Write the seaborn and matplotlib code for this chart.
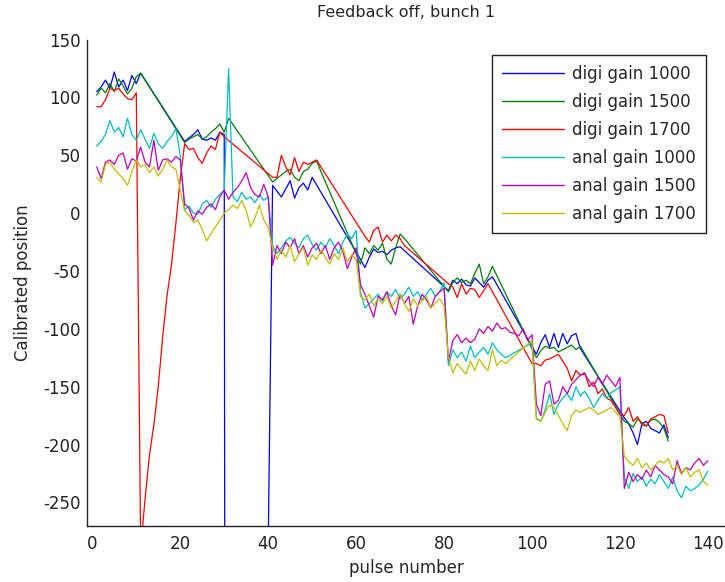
import matplotlib
matplotlib.use("Agg")
import matplotlib.pyplot as plt
import numpy as np
import pandas as pd
import seaborn as sns

# ---------------- data ----------------
series_names = ["digi gain 1000", "digi gain 1500", "digi gain 1700",
                "anal gain 1000", "anal gain 1500", "anal gain 1700"]

digi1000_x = (list(range(1, 12)) + list(range(21, 31)) + [31, 40] + list(range(41, 51))
              + list(range(61, 71)) + list(range(81, 92)) + list(range(101, 112)) + list(range(121, 132)))
digi1000_y = [105, 109, 115, 108, 122, 109, 115, 106, 119, 112, 121,
              62, 65, 68, 72, 64, 63, 65, 63, 70, 68,
              -3000, -290,
              24, 19, 14, 21, 28, 13, 22, 26, 20, 31,
              -40, -47, -38, -31, -34, -33, -36, -32, -30, -29,
              -67, -58, -61, -57, -62, -63, -56, -60, -64, -58, -55,
              -122, -112, -105, -116, -104, -116, -104, -113, -106, -104, -117,
              -177, -182, -190, -200, -182, -180, -186, -188, -190, -183, -194]

digi1500_x = (list(range(1, 12)) + list(range(21, 32)) + list(range(41, 52)) + list(range(61, 72))
              + list(range(81, 92)) + list(range(101, 112)) + list(range(121, 132)))
digi1500_y = [102, 108, 104, 112, 105, 116, 110, 103, 108, 118, 121,
              61, 64, 66, 68, 64, 66, 70, 73, 77, 70, 82,
              27, 30, 33, 36, 38, 31, 28, 36, 38, 43, 45,
              -44, -30, -35, -28, -32, -26, -40, -44, -30, -18, -22,
              -68, -60, -56, -60, -58, -61, -52, -44, -61, -55, -46,
              -125, -119, -115, -117, -116, -120, -118, -116, -114, -118, -115,
              -180, -182, -185, -178, -181, -184, -179, -178, -181, -186, -197]

digi1700_x = (list(range(1, 31)) + list(range(41, 52)) + list(range(62, 72))
              + list(range(81, 91)) + list(range(100, 132)))
digi1700_y = [92, 92, 98, 108, 106, 108, 103, 99, 98, 104,
              -290, -247, -209, -183, -150, -107, -71, -45, -9, 30,
              60, 55, 56, 48, 43, 52, 58, 55, 70, 66,
              31, 31, 50, 40, 33, 48, 36, 44, 42, 44, 46,
              -20, -25, -15, -12, -25, -19, -24, -19, -22, -28,
              -61, -64, -73, -61, -70, -65, -66, -73, -67, -61,
              -130, -130, -132, -127, -126, -124, -122, -128, -134, -145, -136,
              -140, -138, -150, -146, -156, -152, -160, -162, -168, -174,
              -175, -168, -180, -176, -183, -184, -178, -176, -174, -175, -190]

anal_gap_x = list(range(1, 95)) + list(range(100, 141))
anal_full_x = list(range(1, 141))

anal1000_x = anal_gap_x
anal1000_y = [58, 62, 68, 80, 70, 74, 66, 82, 68, 63, 72, 64, 56, 69, 60, 56, 62, 66, 73, 50,
              3, 6, 0, -1, 8, 11, 5, 12, 16, 20, 125, 14, 10, 18, 12, 14, 9, 16, 11, 14,
              -28, -35, -30, -24, -21, -26, -30, -22, -19, -27, -32, -25, -30, -22, -28, -35, -25, -18, -22, -15,
              -68, -82, -78, -74, -70, -76, -68, -72, -66, -74, -70, -64, -72, -68, -75, -70, -65, -72, -68, -60,
              -132, -118, -125, -120, -128, -115, -125, -120, -116, -122, -112, -118, -122, -125,
              -112,
              -177, -180, -170, -156, -174, -165, -160, -156, -162, -150, -158, -154, -160, -168, -162, -156, -160, -155, -153, -150,
              -228, -238, -225, -232, -228, -236, -230, -234, -226, -232, -238, -228, -240, -246, -236, -240, -238, -235, -230, -223]

anal1500_x = anal_full_x
anal1500_y = [40, 30, 44, 46, 42, 50, 52, 38, 47, 45, 57, 44, 40, 63, 37, 46, 47, 44, 49, 46,
              8, 4, -6, 2, -1, 5, 8, 3, 14, 20, 12, 18, 22, 28, 35, 22, 16, 14, 25, 14,
              -45, -28, -35, -25, -30, -22, -35, -28, -38, -30, -26, -35, -28, -40, -30, -25, -33, -48, -38, -30,
              -62, -70, -80, -90, -72, -75, -68, -80, -88, -70, -78, -72, -96, -80, -70, -75, -82, -72, -68, -65,
              -128, -110, -105, -112, -108, -112, -109, -100, -104, -98, -102, -95, -100, -99, -103, -104, -106, -100, -110, -105,
              -165, -175, -148, -145, -165, -162, -150, -156, -148, -144, -140, -139, -145, -150, -142, -148, -140, -145, -150, -142,
              -238, -224, -232, -226, -230, -222, -228, -218, -222, -226, -228, -234, -214, -225, -220, -222, -216, -212, -218, -214]

anal1700_x = anal_gap_x
anal1700_y = [31, 27, 42, 44, 38, 34, 30, 24, 36, 46, 40, 42, 35, 40, 32, 38, 46, 40, 38, 20,
              2, -2, -8, -6, -14, -24, -18, -12, -6, 0, 3, 7, 4, 11, 2, -12, -4, 7, -6, -12,
              -30, -40, -32, -38, -28, -42, -35, -30, -45, -36, -40, -32, -38, -44, -35, -40, -30, -42, -36, -40,
              -72, -75, -70, -80, -74, -78, -72, -82, -76, -70, -78, -85, -74, -80, -76, -72, -82, -78, -74, -80,
              -125, -138, -130, -135, -139, -128, -136, -126, -132, -136, -118, -132, -127, -130,
              -110,
              -178, -180, -172, -166, -168, -175, -182, -188, -175, -170, -172, -170, -168, -170, -174, -172, -170, -168, -172, -176,
              -210, -215, -218, -212, -220, -216, -222, -218, -214, -216, -212, -222, -218, -226, -220, -228, -224, -222, -232, -235]

xs = [digi1000_x, digi1500_x, digi1700_x, anal1000_x, anal1500_x, anal1700_x]
ys = [digi1000_y, digi1500_y, digi1700_y, anal1000_y, anal1500_y, anal1700_y]

colors = ["#0000ff", "#008000", "#ff0000", "#00bfbf", "#bf00bf", "#bfbf00"]

frames = []
for name, x, y in zip(series_names, xs, ys):
    frames.append(pd.DataFrame({"pulse": x, "pos": y, "series": name}))
df = pd.concat(frames, ignore_index=True)

# ---------------- plot ----------------
sns.set_style("white")
plt.rcParams["font.family"] = ["DejaVu Sans"]
plt.rcParams["axes.unicode_minus"] = False

W, H = 725, 582
fig = plt.figure(figsize=(W / 100, H / 100), dpi=100)
left, right, top, bottom = 87.3, 725.0, 39.6, 525.5
ax = fig.add_axes([left / W, (H - bottom) / H, (right - left) / W, (bottom - top) / H])

sns.lineplot(data=df, x="pulse", y="pos", hue="series", hue_order=series_names,
             palette=colors, estimator=None, linewidth=0.9, ax=ax)

ax.set_xlim(-1.14, 143.9)
ax.set_ylim(-270, 150)
ax.set_xticks(np.arange(0, 141, 20))
ax.set_yticks(np.arange(-250, 151, 50))
for s in ["top", "right"]:
    ax.spines[s].set_visible(False)
for s in ["left", "bottom"]:
    ax.spines[s].set_color("#222222")
    ax.spines[s].set_linewidth(1.0)
ax.tick_params(direction="in", length=5, width=1, labelsize=12, colors="#222222")
ax.tick_params(axis="x", pad=7)
ax.tick_params(axis="y", pad=5)

ax.set_title("Feedback off, bunch 1", fontsize=11.5, pad=16)
ax.set_xlabel("pulse number", fontsize=12, labelpad=4)
ax.set_ylabel("Calibrated position", fontsize=12, labelpad=8)

handles, labels = ax.get_legend_handles_labels()
leg = ax.legend(handles, labels, loc="upper right",
                bbox_to_anchor=(705.7 / W, 1 - 55 / H), bbox_transform=fig.transFigure,
                frameon=True, fancybox=False, framealpha=1, edgecolor="#222222",
                fontsize=12, handlelength=3.7, handletextpad=0.5, labelspacing=0.6,
                borderpad=0.6, borderaxespad=0)
leg.get_frame().set_linewidth(1.0)
for line in leg.get_lines():
    line.set_linewidth(1.0)

fig.savefig("out.png", dpi=100)
